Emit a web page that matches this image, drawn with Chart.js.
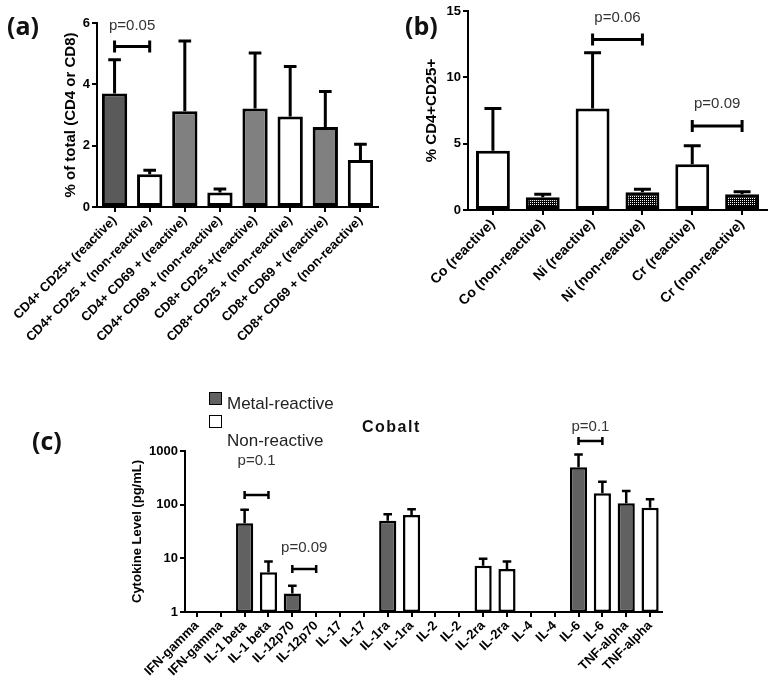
<!DOCTYPE html>
<html>
<head>
<meta charset="utf-8">
<script src="https://cdn.jsdelivr.net/npm/chart.js@4.4.1/dist/chart.umd.min.js"></script>
<style>
  html, body { margin: 0; padding: 0; background: #fff; }
  #wrap { position: relative; width: 774px; height: 682px; overflow: hidden; background: #fff; }
  canvas { position: absolute; }
  .lbl { position: absolute; transform: translateY(-50%); white-space: nowrap; line-height: 1; }
  .panel { font-family: "Open Sans", sans-serif; font-weight: 700; font-size: 25px; color: #111; }
  .legtxt { font-family: "Liberation Sans", Arial, sans-serif; font-size: 17px; color: #222; }
  .box { position: absolute; width: 11px; height: 11px; border: 1px solid #000; }
</style>
</head>
<body>
<div id="wrap">
  <canvas id="chartA" width="390" height="380" style="left:0;top:0"></canvas>
  <canvas id="chartB" width="384" height="380" style="left:390px;top:0"></canvas>
  <canvas id="chartC" width="774" height="302" style="left:0;top:380px"></canvas>

  <div class="lbl panel" style="left:7px;top:25px">(a)</div>
  <div class="lbl panel" style="left:405px;top:25px">(b)</div>
  <div class="lbl panel" style="left:32px;top:440px">(c)</div>

  <div class="box" style="left:209px;top:392px;background:#616161"></div>
  <div class="lbl legtxt" style="left:227px;top:403px">Metal-reactive</div>
  <div class="box" style="left:209px;top:415px;background:#fff"></div>
  <div class="lbl legtxt" style="left:227px;top:440px">Non-reactive</div>
  <div class="lbl" style="left:362px;top:427px;font-family:'Liberation Sans',Arial,sans-serif;font-weight:700;font-size:16px;letter-spacing:1.5px;color:#111">Cobalt</div>
</div>
<script>
// ---- data panel (a) ----
const aLabels = ['CD4+ CD25+ (reactive)', 'CD4+ CD25 + (non-reactive)', 'CD4+ CD69 + (reactive)',
  'CD4+ CD69 + (non-reactive)', 'CD8+ CD25 +(reactive)', 'CD8+ CD25 + (non-reactive)',
  'CD8+ CD69 + (reactive)', 'CD8+ CD69 + (non-reactive)'];
const aMeans = [3.70, 1.07, 3.12, 0.47, 3.21, 2.95, 2.61, 1.53];
const aErrTop = [4.80, 1.20, 5.41, 0.59, 5.02, 4.58, 3.77, 2.05];
const aTicks = [0, 2, 4, 6];
const aBrackets = [{ from: 0, to: 1, y: 5.23, textY: 5.9, text: 'p=0.05' }];

// ---- data panel (b) ----
const bLabels = ['Co (reactive)', 'Co (non-reactive)', 'Ni (reactive)', 'Ni (non-reactive)',
  'Cr (reactive)', 'Cr (non-reactive)'];
const bMeans = [4.47, 0.96, 7.66, 1.33, 3.44, 1.18];
const bErrTop = [7.66, 1.18, 11.86, 1.56, 4.85, 1.38];
const bTicks = [0, 5, 10, 15];
const bBrackets = [
  { from: 2, to: 3, y: 12.86, textY: 14.5, text: 'p=0.06' },
  { from: 4, to: 5, y: 6.33, textY: 8.0, text: 'p=0.09' }
];

// ---- data panel (c) ----
const cLabels = ['IFN-gamma', 'IFN-gamma', 'IL-1 beta', 'IL-1 beta', 'IL-12p70', 'IL-12p70',
  'IL-17', 'IL-17', 'IL-1ra', 'IL-1ra', 'IL-2', 'IL-2', 'IL-2ra', 'IL-2ra', 'IL-4', 'IL-4',
  'IL-6', 'IL-6', 'TNF-alpha', 'TNF-alpha'];
const cMeans = [null, null, 45, 5.5, 2.2, null, null, null, 50, 64, null, null, 7.3, 6.3,
  null, null, 496, 163, 106, 88];
const cErrTop = [null, null, 80, 8.7, 3.1, null, null, null, 66, 82, null, null, 9.8, 8.7,
  null, null, 865, 268, 180, 126];
const cReactive = [true, false, true, false, true, false, true, false, true, false,
  true, false, false, false, true, false, true, false, true, false];
const cTicks = [1, 10, 100, 1000];
const cBrackets = [
  { from: 2, to: 3, y: 151, textY: 650, text: 'p=0.1' },
  { from: 4, to: 5, y: 6.3, textY: 15.5, text: 'p=0.09' },
  { from: 16, to: 17, y: 1530, textY: 2820, text: 'p=0.1' }
];

Chart.defaults.font.family = "'Liberation Sans', Arial, sans-serif";
Chart.defaults.color = '#000';

// dotted fill for the non-reactive bars in (b)
function dotPattern() {
  const c = document.createElement('canvas');
  c.width = 2; c.height = 2;
  const g = c.getContext('2d');
  g.fillStyle = '#000'; g.fillRect(0, 0, 2, 2);
  g.fillStyle = '#fff'; g.fillRect(0, 0, 1, 1);
  return g.createPattern(c, 'repeat');
}

// error bars (upper only) + significance brackets
function errPlugin(tops, brackets, lw, endH) {
  return {
    id: 'errBars',
    afterDatasetsDraw(chart) {
      const ctx = chart.ctx;
      const meta = chart.getDatasetMeta(0);
      const xs = chart.scales.x, ys = chart.scales.y;
      ctx.save();
      ctx.strokeStyle = '#000';
      ctx.lineWidth = lw;
      ctx.lineCap = 'butt';
      tops.forEach((t, i) => {
        if (t == null) return;
        const bar = meta.data[i];
        const yt = ys.getPixelForValue(t);
        const half = bar.width / 4;
        ctx.beginPath();
        ctx.moveTo(bar.x, bar.y);
        ctx.lineTo(bar.x, yt);
        ctx.moveTo(bar.x - half, yt);
        ctx.lineTo(bar.x + half, yt);
        ctx.stroke();
      });
      ctx.font = "15px 'Liberation Sans', Arial, sans-serif";
      ctx.fillStyle = '#333';
      ctx.textAlign = 'center';
      ctx.textBaseline = 'middle';
      brackets.forEach(b => {
        const x1 = xs.getPixelForValue(b.from), x2 = xs.getPixelForValue(b.to);
        const yb = ys.getPixelForValue(b.y);
        ctx.beginPath();
        ctx.moveTo(x1, yb); ctx.lineTo(x2, yb);
        ctx.moveTo(x1, yb - endH / 2); ctx.lineTo(x1, yb + endH / 2);
        ctx.moveTo(x2, yb - endH / 2); ctx.lineTo(x2, yb + endH / 2);
        ctx.stroke();
        ctx.fillText(b.text, (x1 + x2) / 2, ys.getPixelForValue(b.textY));
      });
      ctx.restore();
    }
  };
}

function axisStyle() {
  return {
    border: { display: true, color: '#000', width: 2 },
    grid: { drawOnChartArea: false, drawTicks: true, tickLength: 5, color: '#000', lineWidth: 2, offset: false }
  };
}

function makeChart(id, o) {
  const xAx = Object.assign(axisStyle(), {
    type: 'category',
    offset: true,
    ticks: { autoSkip: false, maxRotation: 45, minRotation: 45, padding: 1,
      font: { size: o.xFont, weight: 'bold' } },
    afterFit: ax => { ax.height = o.xHeight; }
  });
  const yAx = Object.assign(axisStyle(), {
    type: o.log ? 'logarithmic' : 'linear',
    min: o.ticks[0],
    max: o.ticks[o.ticks.length - 1],
    afterBuildTicks: ax => { ax.ticks = o.ticks.map(v => ({ value: v })); },
    ticks: { padding: 2, font: { size: 13, weight: 'bold' }, callback: v => String(v) },
    title: { display: true, text: o.yTitle, padding: { top: o.titlePad, bottom: 0 },
      font: { size: o.titleSize, weight: 'bold' } },
    afterFit: ax => { ax.width = o.yWidth; }
  });
  return new Chart(document.getElementById(id), {
    type: 'bar',
    data: {
      labels: o.labels,
      datasets: [{
        data: o.means,
        backgroundColor: o.colors,
        borderColor: '#000',
        borderWidth: o.bw,
        borderSkipped: false,
        barPercentage: o.barPct,
        categoryPercentage: 1
      }]
    },
    options: {
      responsive: false,
      animation: false,
      layout: { padding: o.pad },
      plugins: { legend: { display: false }, tooltip: { enabled: false } },
      scales: { x: xAx, y: yAx }
    },
    plugins: [errPlugin(o.errTop, o.brackets, o.lw, o.endH)]
  });
}

makeChart('chartA', {
  labels: aLabels, means: aMeans, errTop: aErrTop, brackets: aBrackets, ticks: aTicks,
  colors: ['#5a5a5a', '#fff', '#808080', '#fff', '#808080', '#fff', '#808080', '#fff'],
  yTitle: '% of total (CD4 or CD8)', titleSize: 15, titlePad: 62,
  yWidth: 97, xHeight: 173, pad: { left: 0, top: 23, right: 12, bottom: 0 },
  xFont: 13, bw: 3, lw: 3, endH: 12, barPct: 0.72
});

const pat = dotPattern();
makeChart('chartB', {
  labels: bLabels, means: bMeans, errTop: bErrTop, brackets: bBrackets, ticks: bTicks,
  colors: bLabels.map((l, i) => i % 2 ? pat : '#fff'),
  yTitle: '% CD4+CD25+', titleSize: 15, titlePad: 33,
  yWidth: 78, xHeight: 170, pad: { left: 0, top: 11, right: 7, bottom: 0 },
  xFont: 14, bw: 3, lw: 3, endH: 12, barPct: 0.68
});

makeChart('chartC', {
  labels: cLabels, means: cMeans, errTop: cErrTop, brackets: cBrackets, ticks: cTicks, log: true,
  colors: cReactive.map(r => r ? '#616161' : '#fff'),
  yTitle: 'Cytokine Level (pg/mL)', titleSize: 13, titlePad: 130,
  yWidth: 185, xHeight: 70, pad: { left: 0, top: 71, right: 112, bottom: 0 },
  xFont: 13, bw: 2.5, lw: 2.5, endH: 8, barPct: 0.72
});
</script>
</body>
</html>
